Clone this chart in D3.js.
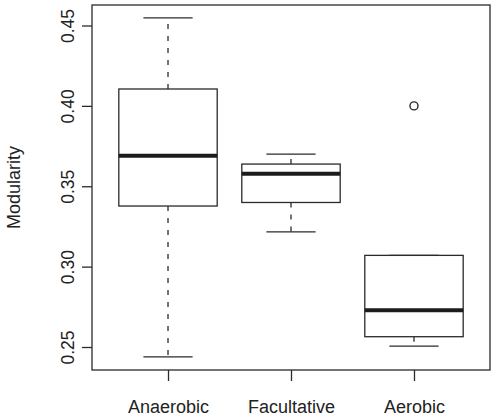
<!DOCTYPE html>
<html>
<head>
<meta charset="utf-8">
<script src="https://cdn.jsdelivr.net/npm/d3@7"></script>
<style>
html,body{margin:0;padding:0;background:#fff;}
svg{display:block;}
text{font-family:"Liberation Sans",Arial,Helvetica,sans-serif;fill:#222;}
</style>
</head>
<body>
<svg id="chart" width="496" height="417"></svg>
<script>
const categories = ["Anaerobic", "Facultative", "Aerobic"];
const whiskerLow  = [0.2438, 0.3216, 0.2506];
const q1          = [0.3377, 0.3399, 0.2564];
const medians     = [0.3690, 0.3578, 0.2728];
const q3          = [0.4105, 0.3638, 0.3070];
const whiskerHigh = [0.4547, 0.3700, 0.3070];
const outliers    = [[], [], [0.400]];
const yTicks      = [0.25, 0.30, 0.35, 0.40, 0.45];

const svg = d3.select("#chart");
const mLeft = 92, mRight = 490, mTop = 5, mBottom = 370;
const ink = "#2a2a2a";

const x = d3.scalePoint().domain(categories).range([mLeft, mRight]).padding(0.618);
const y = d3.scaleLinear().domain([0.25, 0.45]).range([347, 25.5]);
const step = x.step();
const boxW = step * 0.8;
const capW = step * 0.4;

// y axis
const yAxis = d3.axisLeft(y).tickValues(yTicks).tickFormat(d3.format(".2f")).tickSize(10).tickPadding(8);
const gy = svg.append("g").attr("transform", `translate(${mLeft},0)`).call(yAxis);
gy.select(".domain").remove();
gy.selectAll(".tick line").attr("stroke", ink).attr("stroke-width", 1.3);
gy.selectAll(".tick text")
  .attr("x", null).attr("dy", null)
  .attr("transform", "translate(-18,0) rotate(-90)")
  .attr("text-anchor", "middle")
  .style("font-size", "17.5px")
  .style("font-family", "'Liberation Sans', Arial, sans-serif")
  .attr("fill", "#222");

// x axis
const xAxis = d3.axisBottom(x).tickSize(11).tickPadding(0);
const gx = svg.append("g").attr("transform", `translate(0,${mBottom})`).call(xAxis);
gx.select(".domain").remove();
gx.selectAll(".tick line").attr("stroke", ink).attr("stroke-width", 1.3);
gx.selectAll(".tick text")
  .attr("y", 43).attr("dy", null)
  .style("font-size", "18px")
  .style("font-family", "'Liberation Sans', Arial, sans-serif")
  .attr("fill", "#222");

// y label
svg.append("text")
  .attr("transform", `translate(20,187.5) rotate(-90)`)
  .attr("text-anchor", "middle")
  .style("font-size", "18px")
  .text("Modularity");

// boxes
const g = svg.append("g");
categories.forEach((c, i) => {
  const cx = x(c);
  g.append("line").attr("x1", cx).attr("x2", cx)
    .attr("y1", y(q3[i])).attr("y2", y(whiskerHigh[i]))
    .attr("stroke", ink).attr("stroke-width", 1.3).attr("stroke-dasharray", "5,7");
  g.append("line").attr("x1", cx).attr("x2", cx)
    .attr("y1", y(q1[i])).attr("y2", y(whiskerLow[i]))
    .attr("stroke", ink).attr("stroke-width", 1.3).attr("stroke-dasharray", "5,7");
  [whiskerLow[i], whiskerHigh[i]].forEach(v => {
    g.append("line").attr("x1", cx - capW / 2).attr("x2", cx + capW / 2)
      .attr("y1", y(v)).attr("y2", y(v))
      .attr("stroke", ink).attr("stroke-width", 1.3);
  });
  g.append("rect").attr("x", cx - boxW / 2).attr("width", boxW)
    .attr("y", y(q3[i])).attr("height", y(q1[i]) - y(q3[i]))
    .attr("fill", "#fff").attr("stroke", ink).attr("stroke-width", 1.3);
  g.append("line").attr("x1", cx - boxW / 2).attr("x2", cx + boxW / 2)
    .attr("y1", y(medians[i])).attr("y2", y(medians[i]))
    .attr("stroke", "#1c1c1c").attr("stroke-width", 4);
  outliers[i].forEach(v => {
    g.append("circle").attr("cx", cx).attr("cy", y(v)).attr("r", 4)
      .attr("fill", "none").attr("stroke", ink).attr("stroke-width", 1.4);
  });
});

// frame
svg.append("rect").attr("x", mLeft).attr("y", mTop)
  .attr("width", mRight - mLeft).attr("height", mBottom - mTop)
  .attr("fill", "none").attr("stroke", ink).attr("stroke-width", 1.3);
</script>
</body>
</html>
